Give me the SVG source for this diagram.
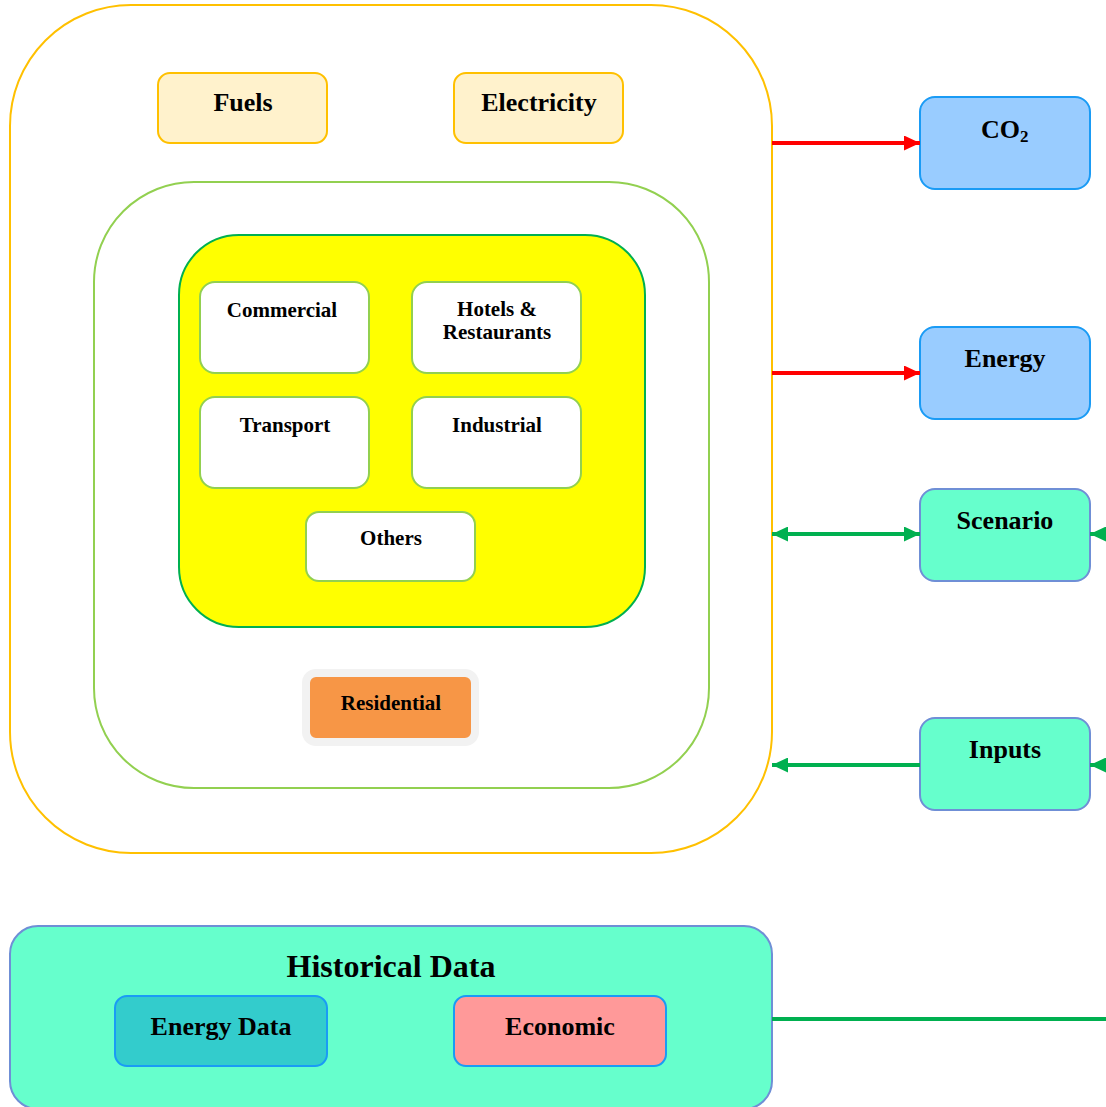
<svg xmlns="http://www.w3.org/2000/svg" width="1106" height="1107" viewBox="0 0 1106 1107">
<defs>
<style>
text{font-family:"Liberation Serif","Times New Roman",serif;font-weight:bold;fill:#000;text-anchor:middle}
.t26{font-size:26px}
.t21{font-size:21px}
.sub{fill:#fff;stroke:#92D050;stroke-width:2}
.src{fill:#FFF2CC;stroke:#FFC000;stroke-width:2}
.out{fill:#99CCFF;stroke:#1A9BF5;stroke-width:2}
.ctl{fill:#66FFCC;stroke:#6F8FD6;stroke-width:2}
.red{stroke:#FF0000;stroke-width:4;fill:none}
.grn{stroke:#00B050;stroke-width:4;fill:none}
</style>
<marker id="ar" markerUnits="userSpaceOnUse" markerWidth="16" markerHeight="15" refX="16" refY="7.5" orient="auto-start-reverse">
<path d="M0,0 L16,7.5 L0,15 z" fill="#FF0000"/>
</marker>
<marker id="ag" markerUnits="userSpaceOnUse" markerWidth="16" markerHeight="15" refX="16" refY="7.5" orient="auto-start-reverse">
<path d="M0,0 L16,7.5 L0,15 z" fill="#00B050"/>
</marker>
</defs>
<rect width="1106" height="1107" fill="#fff"/>

<g id="system">
<rect x="10" y="5" width="762" height="848" rx="121" fill="#fff" stroke="#FFC000" stroke-width="2"/>
</g>
<g id="demand">
<rect x="94" y="182" width="615" height="606" rx="100" fill="#fff" stroke="#92D050" stroke-width="2"/>
</g>
<g id="sectors">
<rect x="179" y="235" width="466" height="392" rx="60" fill="#FFFF00" stroke="#00B050" stroke-width="2"/>
</g>

<g id="fuels">
<rect class="src" x="158" y="73" width="169" height="70" rx="12"/>
<text class="t26" x="243" y="111">Fuels</text>
</g>
<g id="electricity">
<rect class="src" x="454" y="73" width="169" height="70" rx="12"/>
<text class="t26" x="539" y="111">Electricity</text>
</g>

<g id="commercial">
<rect class="sub" x="200" y="282" width="169" height="91" rx="15"/>
<text class="t21" x="282" y="317">Commercial</text>
</g>
<g id="hotels">
<rect class="sub" x="412" y="282" width="169" height="91" rx="15"/>
<text class="t21" x="497" y="316">Hotels &amp;</text>
<text class="t21" x="497" y="339">Restaurants</text>
</g>
<g id="transport">
<rect class="sub" x="200" y="397" width="169" height="91" rx="15"/>
<text class="t21" x="285" y="432">Transport</text>
</g>
<g id="industrial">
<rect class="sub" x="412" y="397" width="169" height="91" rx="15"/>
<text class="t21" x="497" y="432">Industrial</text>
</g>
<g id="others">
<rect class="sub" x="306" y="512" width="169" height="69" rx="13"/>
<text class="t21" x="391" y="545">Others</text>
</g>

<g id="residential">
<rect x="306" y="673" width="169" height="69" rx="10" fill="#F79646" stroke="#F2F2F2" stroke-width="8"/>
<text class="t21" x="391" y="710">Residential</text>
</g>

<g id="co2">
<rect class="out" x="920" y="97" width="170" height="92" rx="15"/>
<text class="t26" x="981" y="138" style="text-anchor:start">CO<tspan font-size="17" dy="4">2</tspan></text>
</g>
<g id="energy">
<rect class="out" x="920" y="327" width="170" height="92" rx="15"/>
<text class="t26" x="1005" y="367">Energy</text>
</g>
<g id="scenario">
<rect class="ctl" x="920" y="489" width="170" height="92" rx="15"/>
<text class="t26" x="1005" y="529">Scenario</text>
</g>
<g id="inputs">
<rect class="ctl" x="920" y="718" width="170" height="92" rx="15"/>
<text class="t26" x="1005" y="758">Inputs</text>
</g>

<g id="historical">
<rect class="ctl" x="10" y="926" width="762" height="183" rx="28"/>
<text x="391" y="977" style="font-size:32px">Historical Data</text>
</g>
<g id="energydata">
<rect x="115" y="996" width="212" height="70" rx="12" fill="#33CCCC" stroke="#1A9BF5" stroke-width="2"/>
<text class="t26" x="221" y="1035">Energy Data</text>
</g>
<g id="economic">
<rect x="454" y="996" width="212" height="70" rx="12" fill="#FF9999" stroke="#1A9BF5" stroke-width="2"/>
<text class="t26" x="560" y="1035">Economic</text>
</g>

<g id="connectors">
<line class="red" x1="772" y1="143" x2="920" y2="143" marker-end="url(#ar)"/>
<line class="red" x1="772" y1="373" x2="920" y2="373" marker-end="url(#ar)"/>
<line class="grn" x1="772" y1="534" x2="920" y2="534" marker-start="url(#ag)" marker-end="url(#ag)"/>
<line class="grn" x1="920" y1="765" x2="772" y2="765" marker-end="url(#ag)"/>
<line class="grn" x1="1140" y1="534" x2="1090" y2="534" marker-end="url(#ag)"/>
<line class="grn" x1="1140" y1="765" x2="1090" y2="765" marker-end="url(#ag)"/>
<line class="grn" x1="772" y1="1019" x2="1110" y2="1019"/>
</g>
</svg>
